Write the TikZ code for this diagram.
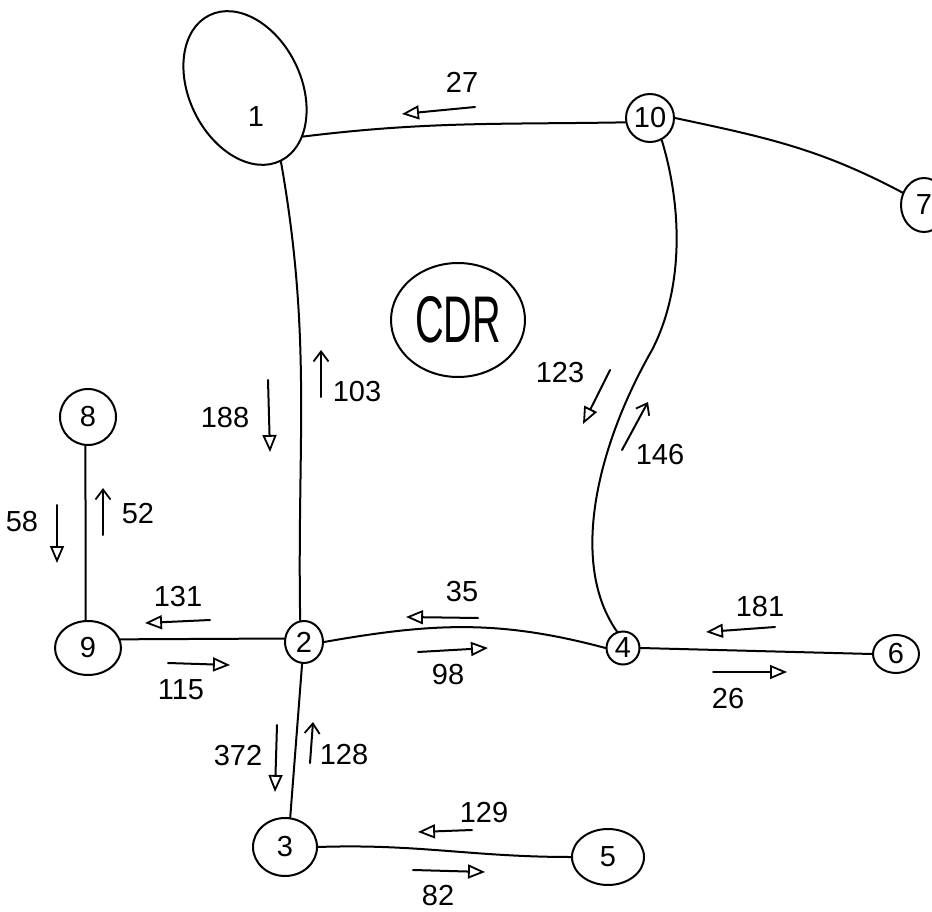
\documentclass[tikz,border=0pt]{standalone}
\usepackage{fontspec}
\setmainfont{Liberation Sans}
\usetikzlibrary{arrows.meta,shapes.geometric}
\begin{document}
\begin{tikzpicture}[x=1pt,y=1pt,
  every node/.style={font=\fontsize{29}{31}\selectfont},
  ln/.style={line width=2pt, line cap=round},
  vtx/.style={draw, line width=2pt, inner sep=0pt},
  openarr/.style={ln, -{Triangle[open,length=17pt,width=14pt,line width=1.8pt]}},
  plainarr/.style={ln, -{Straight Barb[length=10pt,width=15pt,line width=1.8pt]}}
]
\useasboundingbox (0,0) rectangle (932,-912);
% vertices
\node[vtx, ellipse, minimum width=112pt, minimum height=162pt, rotate=26] (n1) at (245,-88) {};
\node (t1) at (256,-117) {1};
\node[vtx, circle, minimum size=48pt] (n10) at (650,-118) {10};
\node[vtx, ellipse, minimum width=46pt, minimum height=54pt] (n7) at (924,-205) {7};
\node[vtx, circle, minimum size=56pt] (n8) at (88,-417) {8};
\node[vtx, ellipse, minimum width=66pt, minimum height=54pt] (n9) at (88,-648) {9};
\node[vtx, ellipse, minimum width=38pt, minimum height=42pt] (n2) at (304,-642) {2};
\node[vtx, circle, minimum size=33pt] (n4) at (623,-648) {4};
\node[vtx, ellipse, minimum width=46pt, minimum height=38pt] (n6) at (896,-654) {6};
\node[vtx, ellipse, minimum width=64pt, minimum height=58pt] (n3) at (285,-847) {3};
\node[vtx, ellipse, minimum width=72pt, minimum height=56pt] (n5) at (608,-857) {5};
\node[vtx, ellipse, minimum width=134pt, minimum height=114pt] (cdr) at (458,-320)
  {\scalebox{0.6}[1]{\fontsize{66}{66}\selectfont CDR}};
% edges
\draw[ln] (n1.-66) to[out=7,in=181] (n10.190);
\draw[ln] (n10.east) to[out=-12,in=152] (n7.150);
\draw[ln] (n10.-62) .. controls (683,-210) and (683,-290) .. (652,-350)
          .. controls (595,-450) and (570,-565) .. (n4.110);
\draw[ln] (n1.south) to[out=-80,in=91] (n2.100);
\draw[ln] (n9.15) -- (n2.170);
\draw[ln] (n2.east) to[out=10,in=165] (n4.west);
\draw[ln] (n4.east) -- (n6.west);
\draw[ln] (n2.-95) -- (n3.80);
\draw[ln] (n3.east) to[out=2,in=180] (n5.west);
\draw[ln] (n8.-95) -- (n9.95);
% flow arrows and labels
\draw[openarr] (475,-107) -- (402,-114); \node (l27) at (462,-82) {27};
\draw[openarr] (268,-380) -- (270,-452); \node (l188) at (225,-418) {188};
\draw[plainarr] (321,-397) -- (321,-350); \node (l103) at (357,-392) {103};
\draw[openarr] (610,-370) -- (583,-424); \node (l123) at (560,-373) {123};
\draw[plainarr] (622,-450) -- (648,-402); \node (l146) at (660,-455) {146};
\draw[openarr] (57,-505) -- (57,-563); \node (l58) at (22,-522) {58};
\draw[plainarr] (103,-535) -- (103,-488); \node (l52) at (138,-514) {52};
\draw[openarr] (210,-620) -- (145,-623); \node (l131) at (178,-597) {131};
\draw[openarr] (168,-663) -- (230,-665); \node (l115) at (181,-690) {115};
\draw[openarr] (478,-618) -- (406,-617); \node (l35) at (462,-592) {35};
\draw[openarr] (418,-652) -- (488,-648); \node (l98) at (448,-675) {98};
\draw[openarr] (775,-627) -- (706,-632); \node (l181) at (760,-607) {181};
\draw[openarr] (713,-672) -- (787,-672); \node (l26) at (728,-699) {26};
\draw[openarr] (277,-725) -- (275,-792); \node (l372) at (238,-756) {372};
\draw[plainarr] (310,-763) -- (313,-722); \node (l128) at (344,-755) {128};
\draw[openarr] (472,-830) -- (418,-832); \node (l129) at (484,-813) {129};
\draw[openarr] (413,-870) -- (485,-872); \node (l82) at (438,-896) {82};
\end{tikzpicture}
\end{document}
